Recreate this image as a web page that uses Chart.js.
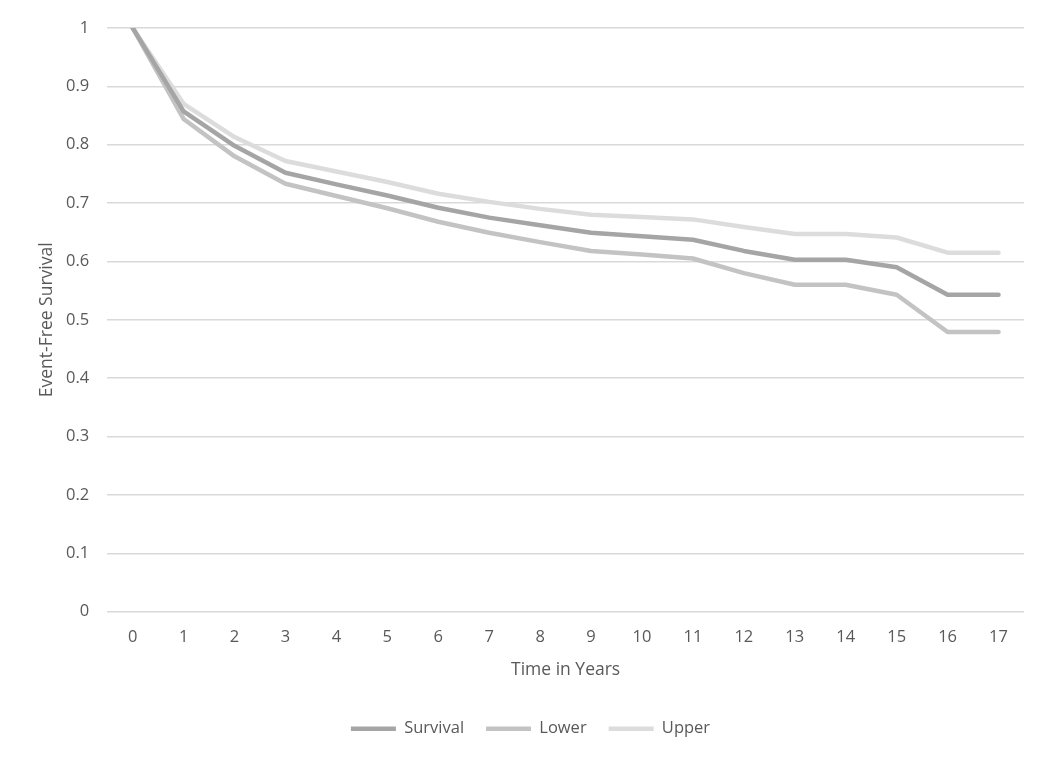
<!DOCTYPE html>
<html>
<head>
<meta charset="utf-8">
<script src="https://cdn.jsdelivr.net/npm/chart.js@4/dist/chart.umd.min.js"></script>
<style>
  html, body { margin: 0; padding: 0; background: #fff; }
  #wrap { width: 1050px; height: 761px; }
</style>
</head>
<body>
<div id="wrap"><canvas id="lineChart"></canvas></div>
<script>
const years = ['0','1','2','3','4','5','6','7','8','9','10','11','12','13','14','15','16','17'];
const survival = [1, 0.857, 0.798, 0.752, 0.732, 0.713, 0.692, 0.675, 0.662, 0.649, 0.643, 0.637, 0.618, 0.603, 0.603, 0.590, 0.543, 0.543];
const lower    = [1, 0.844, 0.780, 0.733, 0.712, 0.691, 0.668, 0.649, 0.633, 0.618, 0.612, 0.605, 0.580, 0.560, 0.560, 0.543, 0.479, 0.479];
const upper    = [1, 0.870, 0.813, 0.772, 0.754, 0.736, 0.716, 0.702, 0.690, 0.680, 0.676, 0.672, 0.659, 0.647, 0.647, 0.641, 0.615, 0.615];
const yTicks = [0, 0.1, 0.2, 0.3, 0.4, 0.5, 0.6, 0.7, 0.8, 0.9, 1];

const textColor = '#595959';
const font = { family: "'Open Sans', 'Noto Sans', sans-serif", size: 16.5 };
const titleFont = { family: font.family, size: 17.5 };

function series(label, data, color) {
    return {
        label: label,
        data: data,
        borderColor: color,
        backgroundColor: color,
        borderWidth: 4.5,
        borderCapStyle: 'round',
        borderJoinStyle: 'round',
        pointRadius: 0,
        tension: 0,
        fill: false
    };
}

var ctx = document.getElementById('lineChart').getContext('2d');
new Chart(ctx, {
    type: 'line',
    data: {
        labels: years,
        datasets: [
            series('Survival', survival, '#a5a5a5'),
            series('Lower', lower, '#c3c3c3'),
            series('Upper', upper, '#dcdcdc')
        ]
    },
    options: {
        responsive: true,
        maintainAspectRatio: false,
        animation: false,
        layout: { padding: { top: 7, right: 26, left: 37, bottom: 14 } },
        plugins: {
            tooltip: { enabled: false },
            legend: {
                position: 'bottom',
                labels: {
                    color: textColor,
                    font: font,
                    usePointStyle: true,
                    pointStyle: 'line',
                    pointStyleWidth: 45,
                    padding: 22
                }
            }
        },
        scales: {
            x: {
                offset: true,
                grid: { display: false },
                border: { display: false },
                ticks: { color: textColor, font: font, padding: 8, maxRotation: 0 },
                title: { display: true, text: 'Time in Years', color: textColor, font: titleFont, padding: { top: 4, bottom: 18 } }
            },
            y: {
                min: 0,
                max: 1,
                afterBuildTicks: axis => { axis.ticks = yTicks.map(v => ({ value: v })); },
                grid: { color: '#d9d9d9', lineWidth: 1.5, drawTicks: false },
                border: { display: false },
                ticks: { color: textColor, font: font, padding: 18, callback: v => String(Math.round(v * 10) / 10) },
                title: { display: true, text: 'Event-Free Survival', color: textColor, font: titleFont, padding: { top: 0, bottom: -10 } }
            }
        }
    }
});
</script>
</body>
</html>
